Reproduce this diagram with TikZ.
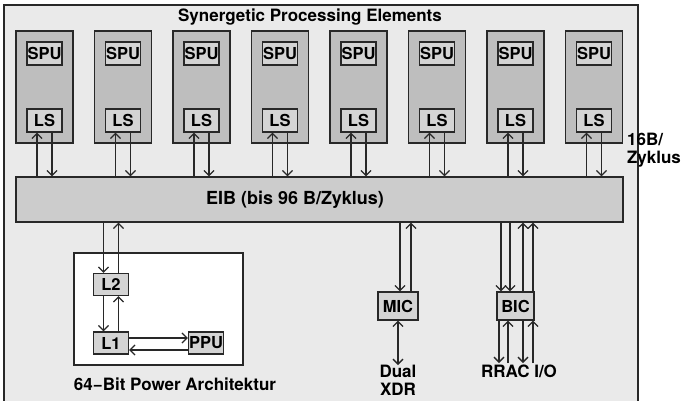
\documentclass[tikz,border=0pt]{standalone}
\usepackage{fontspec}
\setmainfont{TeX Gyre Heros}
\usetikzlibrary{positioning,calc,arrows.meta}
\definecolor{chipbg}{RGB}{234,234,234}
\definecolor{spebg}{RGB}{190,190,190}
\definecolor{unitbg}{RGB}{212,212,212}
\definecolor{busbg}{RGB}{204,204,204}
\definecolor{edge}{RGB}{40,40,40}

\begin{document}
\begin{tikzpicture}[x=1pt, y=-1pt, every node/.style={font=\fontsize{17}{18}\selectfont\bfseries},
    >={Straight Barb[length=5pt,width=10pt]}]
  \tikzstyle{unit}=[draw=edge, line width=1.2pt, fill=unitbg, inner sep=0pt, minimum width=35pt, minimum height=23pt,
    font=\fontsize{16.5}{18}\selectfont\bfseries]
  \tikzstyle{spe}=[draw=edge, line width=1.2pt, fill=spebg, minimum width=57pt, minimum height=112pt]
  \tikzstyle{arr}=[->, line width=1.3pt, draw=edge]
  \tikzstyle{txt}=[align=center, inner sep=0pt]
  \useasboundingbox (0,0) rectangle (683,400);
  \draw[draw=edge, line width=1.4pt, fill=chipbg] (4,5) rectangle (638,412);
  \node[txt] (title) at (310,17) {Synergetic Processing Elements};
  % SPE columns
  \foreach \i in {1,...,8} {
    \node[spe] (spe\i) at ({44.5+78.5*(\i-1)},87) {};
    \node[unit] (spu\i) at ({44.5+78.5*(\i-1)},53.5) {SPU};
    \node[unit] (ls\i) at ({44.5+78.5*(\i-1)},120.5) {LS};
  }
  \node[draw=edge, line width=1.2pt, fill=busbg, minimum width=607pt, minimum height=45pt] (eib) at (319.5,199.5) {};
  \node[txt, font=\fontsize{18}{20}\selectfont\bfseries] (eibtext) at (295,199.5) {EIB (bis 96 B/Zyklus)};
  \foreach \i in {1,...,8} {
    \draw[arr] ($(ls\i.south |- eib.north)+(-7.5,0)$) -- ($(ls\i.south)+(-7.5,0)$);
    \draw[arr] ($(ls\i.south)+(7.5,0)$) -- ($(ls\i.south |- eib.north)+(7.5,0)$);
  }
  \node[txt, align=left, anchor=west] (bw) at (627,150) {16B/\\Zyklus};
  % power core
  \node[draw=edge, line width=1.2pt, fill=white, minimum width=169pt, minimum height=112pt] (ppe) at (158.5,309) {};
  \node[unit, minimum height=22pt] (l2) at (111,284.5) {L2};
  \node[unit, minimum height=22pt] (l1) at (111,343) {L1};
  \node[unit, minimum height=22pt] (ppu) at (206,343) {PPU};
  \node[txt] (ppelabel) at (175,384) {64−Bit Power Architektur};
  \draw[arr] ($(l2.north |- eib.south)+(-7.5,0)$) -- ($(l2.north)+(-7.5,0)$);
  \draw[arr] ($(l2.north)+(7.5,0)$) -- ($(l2.north |- eib.south)+(7.5,0)$);
  \draw[arr] ($(l2.south)+(-7.5,0)$) -- ($(l1.north)+(-7.5,0)$);
  \draw[arr] ($(l1.north)+(7.5,0)$) -- ($(l2.south)+(7.5,0)$);
  \draw[arr] ($(l1.east)+(0,-5)$) -- ($(l1.east -| ppu.west)+(0,-5)$);
  \draw[arr] ($(ppu.west)+(0,7)$) -- ($(ppu.west -| l1.east)+(0,7)$);
  % memory interface
  \node[unit, minimum width=40pt, minimum height=28pt] (mic) at (398,306) {MIC};
  \draw[arr] ($(mic.north |- eib.south)+(2,0)$) -- ($(mic.north)+(2,0)$);
  \draw[arr] ($(mic.north)+(13,0)$) -- ($(mic.north |- eib.south)+(13,0)$);
  \node[txt, anchor=north] (xdr) at (398,365) {Dual\\XDR};
  \draw[arr, <->] (mic.south) -- (xdr.north);
  % bus interface
  \node[unit, minimum width=37pt, minimum height=28pt] (bic) at (515.5,306) {BIC};
  \node[txt, anchor=north] (io) at (519,365) {RRAC I/O};
  \foreach \dx in {-14.5,-5.5}
    \draw[arr] ($(bic.north |- eib.south)+(\dx,0)$) -- ($(bic.north)+(\dx,0)$);
  \foreach \dx in {7.5,17.5}
    \draw[arr] ($(bic.north)+(\dx,0)$) -- ($(bic.north |- eib.south)+(\dx,0)$);
  \foreach \dx in {-16.5,7.5}
    \draw[arr] ($(bic.south)+(\dx,0)$) -- ($(bic.south |- io.north)+(\dx,-2)$);
  \foreach \dx in {-7.5,17.5}
    \draw[arr] ($(bic.south |- io.north)+(\dx,-2)$) -- ($(bic.south)+(\dx,0)$);
\end{tikzpicture}
\end{document}
